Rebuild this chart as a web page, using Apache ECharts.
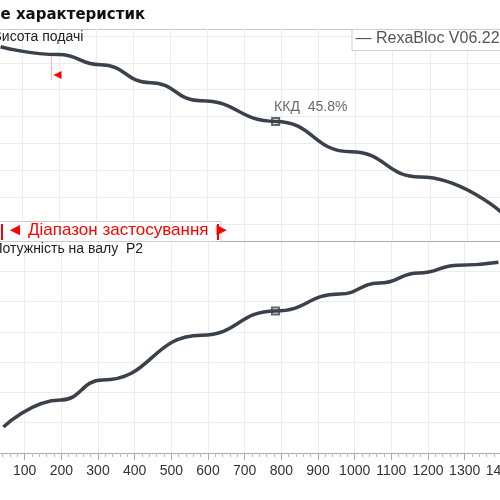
<!DOCTYPE html>
<html><head><meta charset="utf-8">
<script src="https://cdn.jsdelivr.net/npm/echarts@6/dist/echarts.min.js"></script>
<style>html,body{margin:0;padding:0;background:#fff;overflow:hidden;width:500px;height:500px}#c{position:absolute;left:-15.5px;top:0;width:556px;height:500px}</style>
</head><body><div id="c"></div>
<script>
const flow = [42, 198, 312, 447, 582, 784, 987, 1175, 1392];
const head = [6.60, 6.31, 5.93, 5.26, 4.59, 3.82, 2.69, 1.75, 0.45];
const flowP = [42, 198, 312, 582, 784, 959, 1067, 1175, 1283, 1392];
const power = [0.86, 1.75, 2.41, 3.89, 4.69, 5.25, 5.61, 5.94, 6.20, 6.30];
const bepFlow = 784, bepHead = 3.82, bepPower = 4.69;
const xTicks = [100,200,300,400,500,600,700,800,900,1000,1100,1200,1300,1400];

const c = echarts.init(document.getElementById('c'));
const lineC = '#3a414b';
const gridC = '#ececec';
const O = 15.5;
c.setOption({
  animation:false,
  grid:[
    {left:0,right:0,top:29,height:212},
    {left:0,right:0,top:36,height:188},
    {left:0,right:0,top:241,height:212}
  ],
  xAxis:[
    {gridIndex:0,type:'value',min:0,max:1500,interval:100,axisLine:{show:false},axisTick:{show:false},axisLabel:{show:false},splitLine:{lineStyle:{color:gridC}}},
    {gridIndex:1,type:'value',min:0,max:1500,interval:100,show:false},
    {gridIndex:2,type:'value',min:0,max:1500,interval:100,
      axisLine:{lineStyle:{color:'#aaa'}},
      axisTick:{length:7,lineStyle:{color:'#aaa'}},
      minorTick:{show:true,splitNumber:5,length:4,lineStyle:{color:'#bbb'}},
      axisLabel:{color:'#333',fontSize:14,fontFamily:'Liberation Sans',margin:11,
        formatter:v=>xTicks.includes(v)?String(v):''},
      splitLine:{lineStyle:{color:gridC}}}
  ],
  yAxis:[
    {gridIndex:0,type:'value',min:0,max:1,axisLine:{show:false},axisTick:{show:false},axisLabel:{show:false},splitLine:{show:false}},
    {gridIndex:1,type:'value',min:0,max:7,interval:1,axisLine:{show:false},axisTick:{show:false},axisLabel:{show:false},splitLine:{lineStyle:{color:gridC}}},
    {gridIndex:2,type:'value',min:0,max:7,interval:1,axisLine:{show:false},axisTick:{show:false},axisLabel:{show:false},splitLine:{lineStyle:{color:gridC}}}
  ],
  series:[
    {type:'line',xAxisIndex:1,yAxisIndex:1,smooth:true,smoothMonotone:'x',showSymbol:false,silent:true,
      data:flow.map((q,i)=>[q,head[i]]),lineStyle:{color:lineC,width:3.5}},
    {type:'scatter',xAxisIndex:1,yAxisIndex:1,data:[[bepFlow,bepHead]],symbol:'rect',symbolSize:7,
      itemStyle:{color:'#fff',borderColor:lineC,borderWidth:2},
      label:{show:true,position:[3,-17],formatter:'ККД  45.8%',color:'#444',fontSize:14,fontFamily:'Liberation Sans'}},
    {type:'line',xAxisIndex:2,yAxisIndex:2,smooth:true,smoothMonotone:'x',showSymbol:false,silent:true,
      data:flowP.map((q,i)=>[q,power[i]]),lineStyle:{color:lineC,width:3.5}},
    {type:'scatter',xAxisIndex:2,yAxisIndex:2,data:[[bepFlow,bepPower]],symbol:'rect',symbolSize:7,
      itemStyle:{color:'#fff',borderColor:lineC,borderWidth:2}}
  ],
  graphic:[
    {type:'line',shape:{x1:O,y1:29.5,x2:O+500,y2:29.5},style:{stroke:'#c8c8c8',lineWidth:1}},
    {type:'line',shape:{x1:O,y1:241.5,x2:O+500,y2:241.5},style:{stroke:'#aaa',lineWidth:1},z:10},
    {type:'text',left:O,top:8,style:{text:'е характеристик',font:'bold 15px "DejaVu Sans"',fill:'#111'}},
    {type:'text',left:O-8,top:30,style:{text:'Висота подачі',font:'14px "Liberation Sans"',fill:'#222'},z:10},
    {type:'text',left:O-8,top:242,style:{text:'Потужність на валу  P2',font:'14px "Liberation Sans"',fill:'#222'},z:10},
    {type:'rect',shape:{x:O+351.5,y:29.5,width:160,height:21},style:{fill:'#fff',stroke:'#ccc',lineWidth:1},z:10},
    {type:'text',left:O+355,top:31,style:{text:'— RexaBloc V06.22-1',font:'16px "Liberation Sans"',fill:'#555'},z:11},
    {type:'line',shape:{x1:O+51,y1:56,x2:O+51,y2:80},style:{stroke:'#ffb0b0',lineWidth:1},z:10},
    {type:'polygon',shape:{points:[[O+53,75],[O+61,71],[O+61,79]]},style:{fill:'#ff0000'},z:10},
    {type:'rect',shape:{x:O-5,y:221.5,width:225.5,height:20},style:{fill:'#fff',stroke:'#ccc',lineWidth:1},z:11},
    {type:'line',shape:{x1:O+1.5,y1:224,x2:O+1.5,y2:240},style:{stroke:'#ff0000',lineWidth:2},z:12},
    {type:'line',shape:{x1:O+217.5,y1:224,x2:O+217.5,y2:240},style:{stroke:'#ff0000',lineWidth:2},z:12},
    {type:'text',left:O+6,top:222,style:{text:'◄ Діапазон застосування ►',font:'17px "Liberation Sans"',fill:'#ff0000'},z:12}
  ]
});
</script></body></html>
